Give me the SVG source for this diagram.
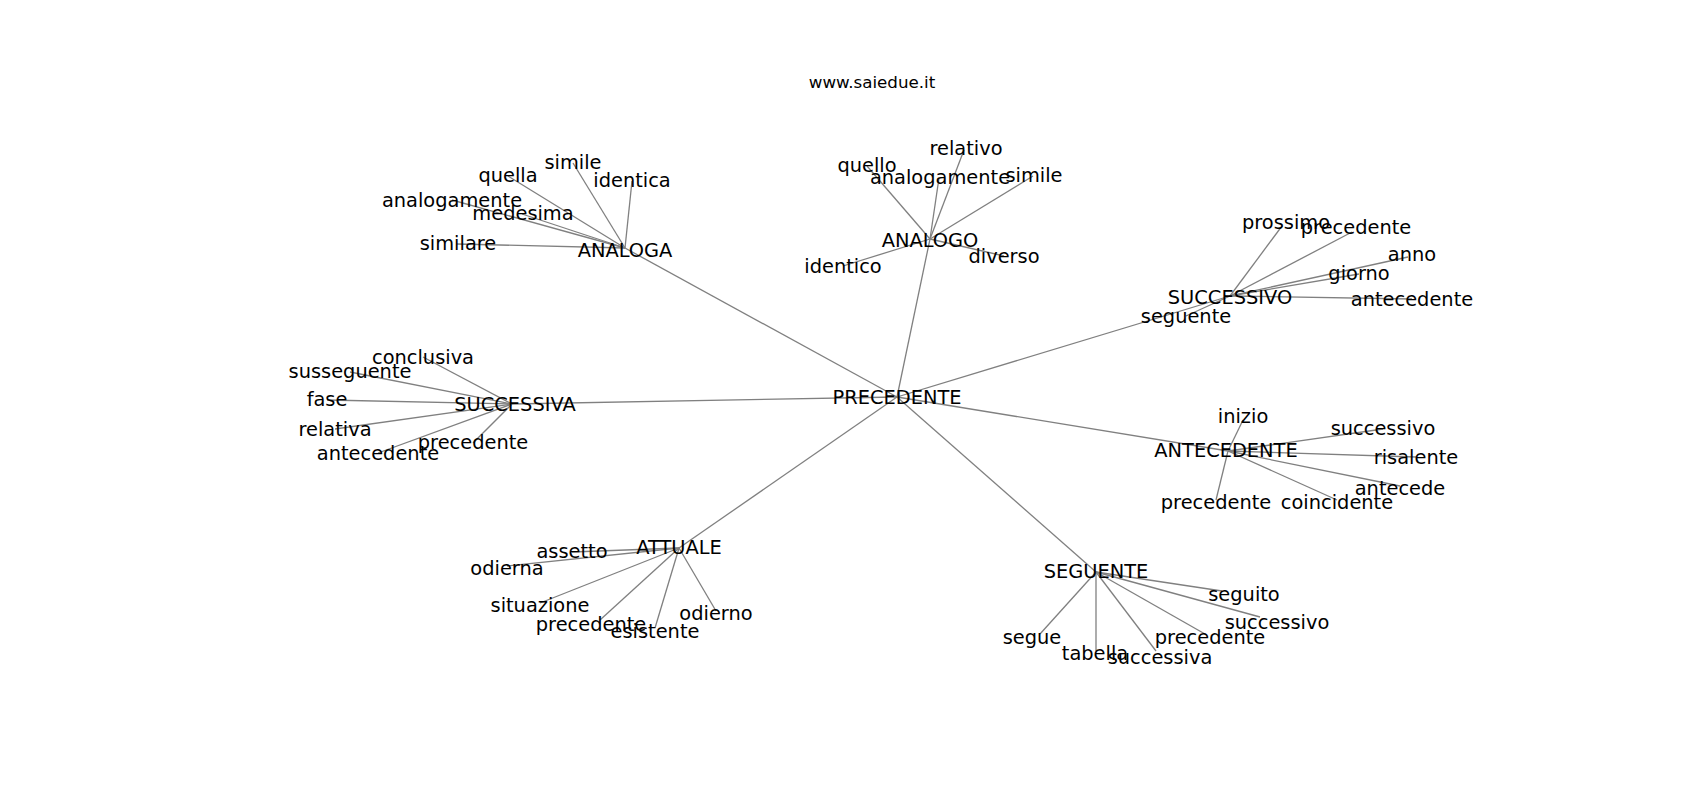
<svg xmlns="http://www.w3.org/2000/svg" width="1700" height="800" viewBox="0 0 1700 800">
<style>
text{font-family:"DejaVu Sans",sans-serif;font-size:19.4px;fill:#000;text-anchor:middle;dominant-baseline:central}
.title{font-size:16.7px}
#edges line{stroke:#808080;stroke-width:1.3}
</style>
<rect width="1700" height="800" fill="#fff"/>
<text class="title" x="872" y="82">www.saiedue.it</text>
<g id="edges">
<line x1="897" y1="397" x2="625" y2="248"/>
<line x1="897" y1="397" x2="930" y2="239"/>
<line x1="897" y1="397" x2="1230" y2="296"/>
<line x1="897" y1="397" x2="512" y2="404"/>
<line x1="897" y1="397" x2="1228" y2="451"/>
<line x1="897" y1="397" x2="679" y2="548"/>
<line x1="897" y1="397" x2="1096" y2="572"/>
<line x1="625" y1="248" x2="457" y2="244"/>
<line x1="625" y1="248" x2="452" y2="200"/>
<line x1="625" y1="248" x2="522" y2="214"/>
<line x1="625" y1="248" x2="508" y2="176"/>
<line x1="625" y1="248" x2="573" y2="163"/>
<line x1="625" y1="248" x2="632" y2="181"/>
<line x1="930" y1="239" x2="964" y2="150"/>
<line x1="930" y1="239" x2="867" y2="166"/>
<line x1="930" y1="239" x2="939" y2="178"/>
<line x1="930" y1="239" x2="1033" y2="176"/>
<line x1="930" y1="239" x2="1004" y2="256"/>
<line x1="930" y1="239" x2="843" y2="266"/>
<line x1="1230" y1="296" x2="1282" y2="226"/>
<line x1="1230" y1="296" x2="1352" y2="232"/>
<line x1="1230" y1="296" x2="1408" y2="257"/>
<line x1="1230" y1="296" x2="1359" y2="274"/>
<line x1="1230" y1="296" x2="1412" y2="299"/>
<line x1="1230" y1="296" x2="1186" y2="316"/>
<line x1="512" y1="404" x2="423" y2="357"/>
<line x1="512" y1="404" x2="350" y2="372"/>
<line x1="512" y1="404" x2="327" y2="400"/>
<line x1="512" y1="404" x2="335" y2="429"/>
<line x1="512" y1="404" x2="378" y2="453"/>
<line x1="512" y1="404" x2="473" y2="443"/>
<line x1="1228" y1="451" x2="1243" y2="420"/>
<line x1="1228" y1="451" x2="1383" y2="429"/>
<line x1="1228" y1="451" x2="1416" y2="457"/>
<line x1="1228" y1="451" x2="1400" y2="486"/>
<line x1="1228" y1="451" x2="1337" y2="500"/>
<line x1="1228" y1="451" x2="1216" y2="500"/>
<line x1="679" y1="548" x2="572" y2="552"/>
<line x1="679" y1="548" x2="507" y2="566"/>
<line x1="679" y1="548" x2="540" y2="603"/>
<line x1="679" y1="548" x2="600" y2="620"/>
<line x1="679" y1="548" x2="655" y2="628"/>
<line x1="679" y1="548" x2="716" y2="611"/>
<line x1="1096" y1="572" x2="1222" y2="591"/>
<line x1="1096" y1="572" x2="1260" y2="617"/>
<line x1="1096" y1="572" x2="1205" y2="634"/>
<line x1="1096" y1="572" x2="1156" y2="651"/>
<line x1="1096" y1="572" x2="1096" y2="651"/>
<line x1="1096" y1="572" x2="1040" y2="634"/>
</g>
<g id="n-PRECEDENTE"><text x="897" y="397">PRECEDENTE</text></g>
<g id="n-ANALOGA"><text x="625" y="250">ANALOGA</text></g>
<g id="n-ANALOGA-similare"><text x="458" y="243">similare</text></g>
<g id="n-ANALOGA-analogamente"><text x="452" y="200">analogamente</text></g>
<g id="n-ANALOGA-medesima"><text x="523" y="213">medesima</text></g>
<g id="n-ANALOGA-quella"><text x="508" y="175">quella</text></g>
<g id="n-ANALOGA-simile"><text x="573" y="162">simile</text></g>
<g id="n-ANALOGA-identica"><text x="632" y="180">identica</text></g>
<g id="n-ANALOGO"><text x="930" y="240">ANALOGO</text></g>
<g id="n-ANALOGO-relativo"><text x="966" y="148">relativo</text></g>
<g id="n-ANALOGO-quello"><text x="867" y="165">quello</text></g>
<g id="n-ANALOGO-analogamente"><text x="940" y="177">analogamente</text></g>
<g id="n-ANALOGO-simile"><text x="1034" y="175">simile</text></g>
<g id="n-ANALOGO-diverso"><text x="1004" y="256">diverso</text></g>
<g id="n-ANALOGO-identico"><text x="843" y="266">identico</text></g>
<g id="n-SUCCESSIVO"><text x="1230" y="297">SUCCESSIVO</text></g>
<g id="n-SUCCESSIVO-prossimo"><text x="1286" y="222">prossimo</text></g>
<g id="n-SUCCESSIVO-precedente"><text x="1356" y="227">precedente</text></g>
<g id="n-SUCCESSIVO-anno"><text x="1412" y="254">anno</text></g>
<g id="n-SUCCESSIVO-giorno"><text x="1359" y="273">giorno</text></g>
<g id="n-SUCCESSIVO-antecedente"><text x="1412" y="299">antecedente</text></g>
<g id="n-SUCCESSIVO-seguente"><text x="1186" y="316">seguente</text></g>
<g id="n-SUCCESSIVA"><text x="515" y="404">SUCCESSIVA</text></g>
<g id="n-SUCCESSIVA-conclusiva"><text x="423" y="357">conclusiva</text></g>
<g id="n-SUCCESSIVA-susseguente"><text x="350" y="371">susseguente</text></g>
<g id="n-SUCCESSIVA-fase"><text x="327" y="399">fase</text></g>
<g id="n-SUCCESSIVA-relativa"><text x="335" y="429">relativa</text></g>
<g id="n-SUCCESSIVA-antecedente"><text x="378" y="453">antecedente</text></g>
<g id="n-SUCCESSIVA-precedente"><text x="473" y="442">precedente</text></g>
<g id="n-ANTECEDENTE"><text x="1226" y="450">ANTECEDENTE</text></g>
<g id="n-ANTECEDENTE-inizio"><text x="1243" y="416">inizio</text></g>
<g id="n-ANTECEDENTE-successivo"><text x="1383" y="428">successivo</text></g>
<g id="n-ANTECEDENTE-risalente"><text x="1416" y="457">risalente</text></g>
<g id="n-ANTECEDENTE-antecede"><text x="1400" y="488">antecede</text></g>
<g id="n-ANTECEDENTE-coincidente"><text x="1337" y="502">coincidente</text></g>
<g id="n-ANTECEDENTE-precedente"><text x="1216" y="502">precedente</text></g>
<g id="n-ATTUALE"><text x="679" y="547">ATTUALE</text></g>
<g id="n-ATTUALE-assetto"><text x="572" y="551">assetto</text></g>
<g id="n-ATTUALE-odierna"><text x="507" y="568">odierna</text></g>
<g id="n-ATTUALE-situazione"><text x="540" y="605">situazione</text></g>
<g id="n-ATTUALE-precedente"><text x="591" y="624">precedente</text></g>
<g id="n-ATTUALE-esistente"><text x="655" y="631">esistente</text></g>
<g id="n-ATTUALE-odierno"><text x="716" y="613">odierno</text></g>
<g id="n-SEGUENTE"><text x="1096" y="571">SEGUENTE</text></g>
<g id="n-SEGUENTE-seguito"><text x="1244" y="594">seguito</text></g>
<g id="n-SEGUENTE-successivo"><text x="1277" y="622">successivo</text></g>
<g id="n-SEGUENTE-precedente"><text x="1210" y="637">precedente</text></g>
<g id="n-SEGUENTE-successiva"><text x="1160" y="657">successiva</text></g>
<g id="n-SEGUENTE-tabella"><text x="1095" y="653">tabella</text></g>
<g id="n-SEGUENTE-segue"><text x="1032" y="637">segue</text></g>
</svg>
